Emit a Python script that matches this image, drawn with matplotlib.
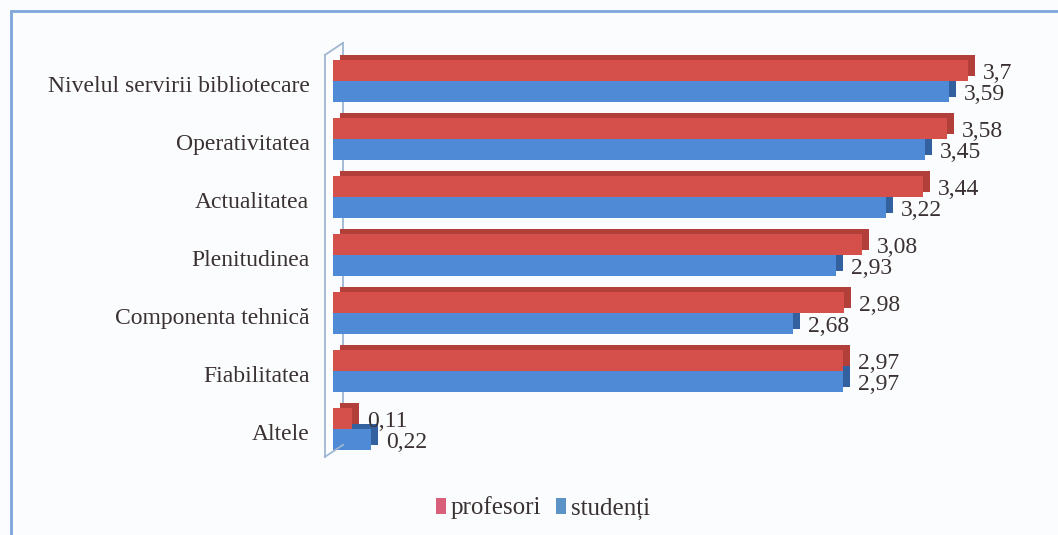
import matplotlib
matplotlib.use("Agg")
import matplotlib.pyplot as plt
from matplotlib.patches import Rectangle, Patch
from matplotlib.transforms import ScaledTranslation
from matplotlib.lines import Line2D
import numpy as np

categories = ["Nivelul servirii bibliotecare", "Operativitatea", "Actualitatea",
              "Plenitudinea", "Componenta tehnică", "Fiabilitatea", "Altele"]
profesori = [3.7, 3.58, 3.44, 3.08, 2.98, 2.97, 0.11]
studenti = [3.59, 3.45, 3.22, 2.93, 2.68, 2.97, 0.22]
series_names = ["profesori", "studenți"]

RED, RED_D = "#d6504b", "#b23f3a"
BLUE, BLUE_D = "#4e8ad6", "#33609e"
TXT = "#3a3132"
FONT = "Liberation Serif"
FS = 17

W, H, DPI = 1058, 535, 100
fig = plt.figure(figsize=(W / DPI, H / DPI), dpi=DPI)
fig.patch.set_facecolor("#fbfcfd")

# axes: x=0 at pixel 333, 171.6 px per unit
x_left_px, px_per_unit, xmax = 333, 171.6, 4.0
ylim = (6.65, -0.65)
top_px = 81 - 0.65 * 58
bot_px = 429 + 0.65 * 58
ax = fig.add_axes([x_left_px / W, 1 - bot_px / H, xmax * px_per_unit / W, (bot_px - top_px) / H])
ax.set_xlim(0, xmax)
ax.set_ylim(*ylim)
ax.set_facecolor("none")
for s in ax.spines.values():
    s.set_visible(False)
ax.set_xticks([])

def off(dx, dy):
    return ScaledTranslation(dx / DPI, dy / DPI, fig.dpi_scale_trans)

y = np.arange(len(categories))
bh = 0.36
dep = off(7, 5)

# depth (3D side/top) faces
ax.barh(y - bh / 2, profesori, height=bh, color=RED_D, transform=ax.transData + dep, zorder=1)
ax.barh(y + bh / 2, studenti, height=bh, color=BLUE_D, transform=ax.transData + dep, zorder=1)
# front faces
ax.barh(y - bh / 2, profesori, height=bh, color=RED, zorder=3)
ax.barh(y + bh / 2, studenti, height=bh, color=BLUE, zorder=3)

# value labels
for i in range(len(categories)):
    for v, yy in ((profesori[i], y[i] - bh / 2), (studenti[i], y[i] + bh / 2)):
        ax.text(v, yy, f"{v:g}".replace(".", ","), transform=ax.transData + off(15, -3),
                ha="left", va="center", fontsize=FS, family=FONT, color=TXT, zorder=5)

# wall of the 3D chart
wall_top, wall_bot = -0.45, 6.48
wc = "#9fb6d3"
ax.plot([0, 0], [wall_top, wall_bot], color=wc, lw=1.3, transform=ax.transData + off(-8, 0), zorder=0, clip_on=False)
ax.plot([0, 0], [wall_top, wall_bot], color=wc, lw=1.3, transform=ax.transData + off(10, 12), zorder=0, clip_on=False)
for yy in (wall_top, wall_bot):
    p0 = (ax.transData + off(-8, 0)).transform((0, yy))
    p1 = (ax.transData + off(10, 12)).transform((0, yy))
    fig.add_artist(Line2D([p0[0] / W, p1[0] / W], [p0[1] / H, p1[1] / H], color=wc, lw=1.3,
                          transform=fig.transFigure))

ax.set_yticks(y)
ax.set_yticklabels(categories, fontsize=FS, family=FONT, color=TXT)
ax.tick_params(axis="y", length=0, pad=17)
for t in ax.get_yticklabels():
    t.set_transform(t.get_transform() + off(0, -3))

# legend
handles = [Patch(facecolor="#d9607a", edgecolor="none"), Patch(facecolor="#5b93c6", edgecolor="none")]
leg = fig.legend(handles, series_names, loc="center", bbox_to_anchor=(543 / W, 1 - 508 / H), ncol=2,
                 frameon=False, prop={"family": FONT, "size": 18}, handlelength=0.4, handleheight=0.6,
                 handletextpad=0.2, columnspacing=0.6)
for t in leg.get_texts():
    t.set_color(TXT)

# outer frame
fig.add_artist(Rectangle((11 / W, -0.2), 1.2, 1.2 - 11 / H, fill=False,
                         edgecolor="#7ea6d8", lw=2, transform=fig.transFigure))

fig.savefig("out.png", dpi=DPI, facecolor=fig.get_facecolor())
